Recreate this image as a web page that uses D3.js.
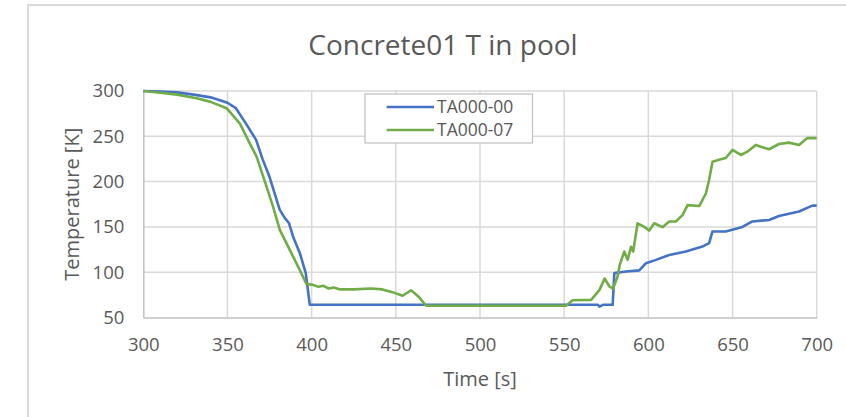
<!DOCTYPE html>
<html>
<head>
<meta charset="utf-8">
<script src="https://cdn.jsdelivr.net/npm/d3@7"></script>
<style>
	body { margin: 0; background: #fff; }
	text { font-family: "Open Sans", sans-serif; fill: #595959; }
</style>
</head>
<body>
<div id="chart"></div>
<script>
// series data
let timeA = [300, 310, 320, 330, 340, 350, 355, 361, 367, 371, 375, 378, 381, 384, 386.6, 389, 393, 396.5, 398.9,
	570, 571, 573, 578.8, 579.8, 586.7, 594.6, 598.6, 604.5, 612.4, 622.3, 632.1, 636.1, 638.1, 646, 655.9, 661.8,
	671.7, 677.6, 689.5, 697.4, 700];
let tempA = [300, 299.5, 298.5, 296, 293, 287, 281, 264, 246, 224, 205, 187, 169, 160, 154, 139, 121, 99, 64,
	64, 62, 64, 64, 99, 100.7, 102, 110, 113.6, 119, 122.8, 128.3, 132, 145, 145, 150, 156,
	157.7, 162, 167, 173.5, 173.5];

let timeB = [300, 310, 320, 331.7, 340, 349.5, 357.4, 363.3, 367.3, 373.2, 377.1, 381.1, 387, 392.9, 396.9, 400.8,
	404, 407, 410, 413, 417, 425, 435, 442, 448, 454, 459, 461, 464, 468, 551, 555, 566, 571, 574, 577, 579,
	581.7, 583, 585.7, 587.7, 589.7, 591, 593.6, 597.6, 600.5, 603.5, 608.4, 612.4, 616.3, 620.3, 623.3, 630.2,
	634.2, 636.1, 638.1, 642, 646, 650, 654.9, 658.8, 663.8, 667.7, 671.7, 677.6, 683.5, 689.5, 694.4, 700];
let tempB = [300, 298, 296, 292, 288, 281, 264, 242, 227.5, 194.5, 172, 146.7, 124.7, 102.6, 87, 86,
	84, 85, 82, 83, 81, 81, 82, 81, 78, 74, 80, 77, 72, 63, 63, 69, 69.5, 80.5, 93, 84, 82,
	95, 108, 122.8, 113.6, 128, 122.8, 154, 150, 146, 154, 149.7, 156, 156, 163, 174, 173,
	187, 202, 222, 224, 226, 235, 229.4, 233, 240.5, 238, 235.7, 241.5, 243, 240.5, 248, 248];

let seriesNames = ["TA000-00", "TA000-07"];
let seriesColors = ["#4472c4", "#70ad47"];
let xTicks = [300, 350, 400, 450, 500, 550, 600, 650, 700];
let yTicks = [50, 100, 150, 200, 250, 300];

let w = 846, h = 417;
let plot = {left: 143.3, right: 816.7, top: 91, bottom: 317.5};

let svg = d3.select("#chart").append("svg")
	.attr("width", w)
	.attr("height", h);

// outer frame
svg.append("path")
	.attr("d", "M28,417V5H846")
	.attr("fill", "none")
	.attr("stroke", "#d9d9d9")
	.attr("stroke-width", 2);

let x = d3.scaleLinear().domain([300, 700]).range([plot.left, plot.right]);
let y = d3.scaleLinear().domain([50, 300]).range([plot.bottom, plot.top]);

// gridlines
svg.append("g")
	.selectAll("line.v")
	.data(xTicks.slice(1))
	.enter().append("line")
	.attr("x1", (d) => x(d)).attr("x2", (d) => x(d))
	.attr("y1", plot.top).attr("y2", plot.bottom)
	.attr("stroke", "#d9d9d9").attr("stroke-width", 1.5);

svg.append("g")
	.selectAll("line.h")
	.data(yTicks.slice(1))
	.enter().append("line")
	.attr("x1", plot.left).attr("x2", plot.right)
	.attr("y1", (d) => y(d)).attr("y2", (d) => y(d))
	.attr("stroke", "#d9d9d9").attr("stroke-width", 1.5);

// axes
let xAxis = svg.append("g")
	.attr("transform", "translate(0," + plot.bottom + ")")
	.call(d3.axisBottom(x).tickValues(xTicks).tickSize(0).tickPadding(20));
let yAxis = svg.append("g")
	.attr("transform", "translate(" + plot.left + ",0)")
	.call(d3.axisLeft(y).tickValues(yTicks).tickSize(0).tickPadding(19));

[xAxis, yAxis].forEach((a) => {
	a.select(".domain").attr("stroke", "#bfbfbf").attr("stroke-width", 1.5);
	a.selectAll("text").attr("font-size", 18.5).attr("fill", "#595959")
		.style("font-family", "'Open Sans', sans-serif");
});

// lines
let line = d3.line()
	.x((d) => x(d[0]))
	.y((d) => y(d[1]));

let seriesData = [
	d3.zip(timeA, tempA),
	d3.zip(timeB, tempB)
];

svg.selectAll("path.series")
	.data(seriesData)
	.enter().append("path")
	.attr("class", "series")
	.attr("d", line)
	.attr("fill", "none")
	.attr("stroke", (d, i) => seriesColors[i])
	.attr("stroke-width", 2.6)
	.attr("stroke-linejoin", "round");

// title
svg.append("text")
	.attr("x", 443).attr("y", 55)
	.attr("text-anchor", "middle")
	.attr("font-size", 28)
	.text("Concrete01 T in pool");

// axis titles
svg.append("text")
	.attr("x", (plot.left + plot.right) / 2).attr("y", 386)
	.attr("text-anchor", "middle")
	.attr("font-size", 20)
	.text("Time [s]");

svg.append("text")
	.attr("transform", "translate(79," + ((plot.top + plot.bottom) / 2) + ") rotate(-90)")
	.attr("text-anchor", "middle")
	.attr("font-size", 20)
	.text("Temperature [K]");

// legend
let legend = svg.append("g");
legend.append("rect")
	.attr("x", 365).attr("y", 94)
	.attr("width", 167.5).attr("height", 49)
	.attr("fill", "#fff")
	.attr("stroke", "#bfbfbf")
	.attr("stroke-width", 1.2);

let items = legend.selectAll("g.item")
	.data(seriesNames)
	.enter().append("g")
	.attr("transform", (d, i) => "translate(0," + (107 + i * 23) + ")");
items.append("line")
	.attr("x1", 386.7).attr("x2", 434)
	.attr("stroke", (d, i) => seriesColors[i])
	.attr("stroke-width", 2.6);
items.append("text")
	.attr("x", 437).attr("dy", "0.36em")
	.attr("font-size", 17.5)
	.text((d) => d);
</script>
</body>
</html>
